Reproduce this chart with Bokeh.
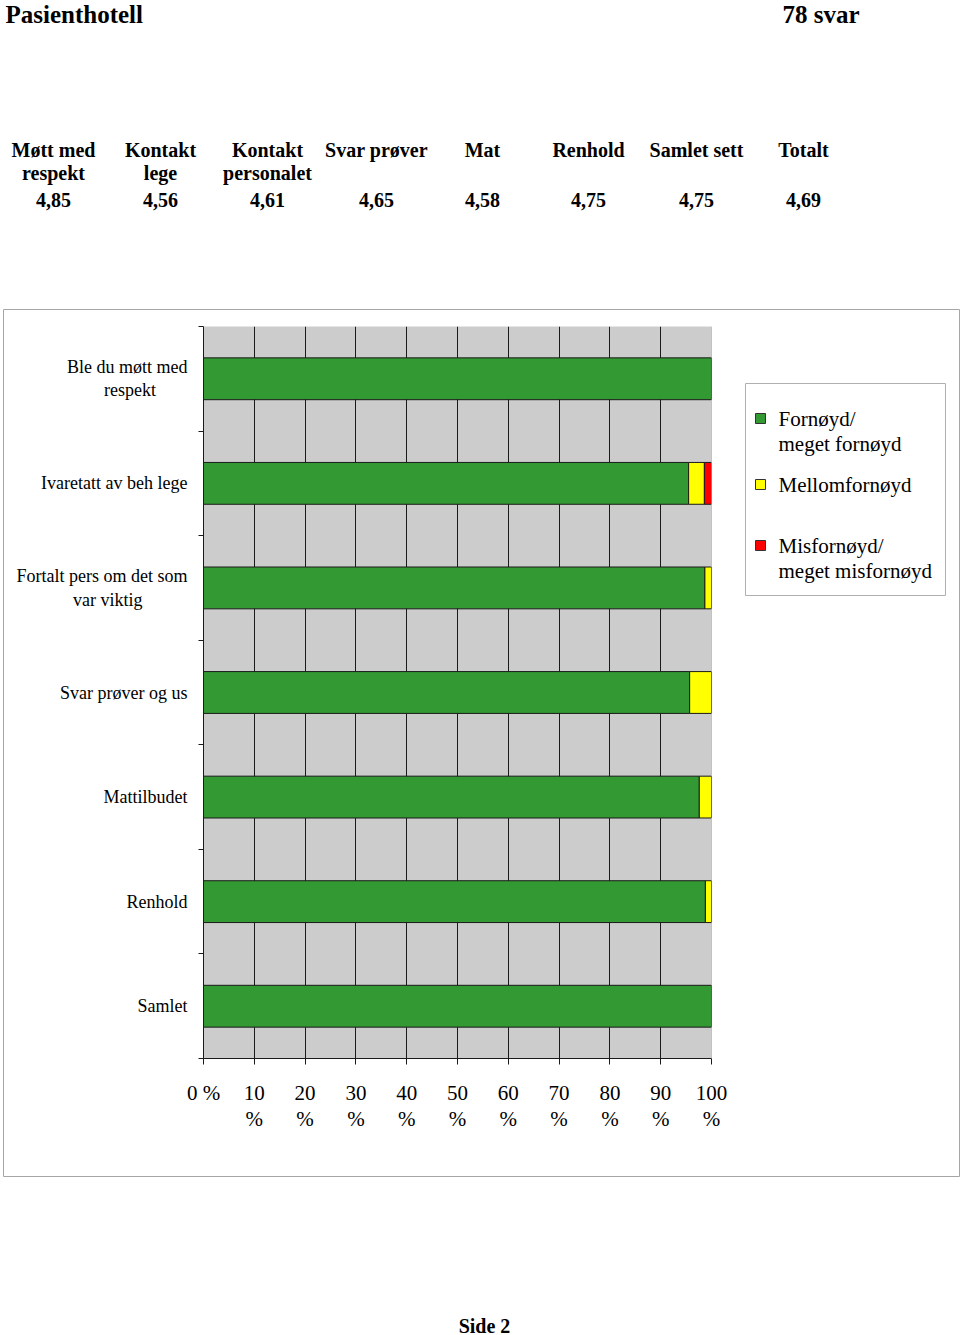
from bokeh.plotting import figure
from bokeh.models import (Range1d, FixedTicker, ColumnDataSource, Span)
from bokeh.core.properties import value
from bokeh.embed import file_html
from bokeh.resources import INLINE

# ---------------- data ----------------
title = "Pasienthotell"
count_text = "78 svar"
summary_headers = ["Møtt med\nrespekt", "Kontakt\nlege", "Kontakt\npersonalet", "Svar prøver",
                   "Mat", "Renhold", "Samlet sett", "Totalt"]
summary_values = ["4,85", "4,56", "4,61", "4,65", "4,58", "4,75", "4,75", "4,69"]

categories = ["Ble du møtt med\nrespekt", "Ivaretatt av beh lege",
              "Fortalt pers om det som\nvar viktig", "Svar prøver og us",
              "Mattilbudet", "Renhold", "Samlet"]
fornoyd = [100.0, 95.5, 98.7, 95.7, 97.6, 98.8, 100.0]
mellomfornoyd = [0.0, 3.1, 1.3, 4.3, 2.4, 1.2, 0.0]
misfornoyd = [0.0, 1.4, 0.0, 0.0, 0.0, 0.0, 0.0]
series_names = ["Fornøyd/\nmeget fornøyd", "Mellomfornøyd", "Misfornøyd/\nmeget misfornøyd"]

x_ticks = [0, 10, 20, 30, 40, 50, 60, 70, 80, 90, 100]
x_tick_labels = ["0 %", "10\n%", "20\n%", "30\n%", "40\n%", "50\n%", "60\n%",
                 "70\n%", "80\n%", "90\n%", "100\n%"]
footer = "Side 2"

# ---------------- style / layout ----------------
FONT = "Liberation Serif"
GREEN, YELLOW, RED = "#339933", "#ffff00", "#ff0000"
colors = [GREEN, YELLOW, RED]
PAGE_W, PAGE_H = 960, 1335
BOX_L, BOX_R, BOX_T, BOX_B = 3, 959, 309, 1176     # outer chart box (page px)
FL, FR, FT, FB = 203, 711, 326, 1058               # plot frame (page px)
LEG_L, LEG_R, LEG_T, LEG_B = 745, 946, 383, 596    # legend box (page px)
n = len(categories)


def text_fig(w, h, **kw):
    f = figure(width=w, height=h, x_range=Range1d(0, w), y_range=Range1d(h, 0),
               output_backend="svg", toolbar_location=None, min_border=0,
               x_axis_location=None, y_axis_location=None, **kw)
    f.grid.visible = False
    f.outline_line_color = None
    f.background_fill_color = "white"
    f.border_fill_color = "white"
    return f


# ---------- header ----------
head = text_fig(PAGE_W, BOX_T)
head.text(x=[5, 782], y=[14, 14], text=[title, count_text], text_font=value(FONT),
          text_font_size="25px", text_font_style="bold", text_align="left",
          text_baseline="middle", text_color="black")
col_centers = [53, 160, 267, 376, 482, 588, 696, 803]
hx, hy, ht = [], [], []
for hdr, val, cx in zip(summary_headers, summary_values, col_centers):
    for k, line in enumerate(hdr.split("\n")):
        hx.append(cx); hy.append(149 + 23 * k); ht.append(line)
    hx.append(cx); hy.append(199); ht.append(val)
head.text(x=hx, y=hy, text=ht, text_font=value(FONT), text_font_size="20px",
          text_font_style="bold", text_align="center", text_baseline="middle", text_color="black")

# ---------- chart ----------
cw, ch = BOX_R - BOX_L, BOX_B - BOX_T
p = figure(width=cw, height=ch, x_range=Range1d(0, 100), y_range=Range1d(0, n),
           output_backend="svg", toolbar_location=None,
           min_border_left=FL - BOX_L, min_border_right=BOX_R - FR,
           min_border_top=FT - BOX_T, min_border_bottom=BOX_B - FB,
           margin=(0, 0, 0, BOX_L))
p.background_fill_color = "#cccccc"
p.border_fill_color = "white"
p.outline_line_color = None

src = ColumnDataSource(dict(y=[n - 0.5 - i for i in range(n)],
                            fornoyd=fornoyd, mellom=mellomfornoyd, misfornoyd=misfornoyd))
rs = p.hbar_stack(["fornoyd", "mellom", "misfornoyd"], y="y", height=0.4, color=colors,
                  line_color="#1a1a1a", line_width=1, source=src)

p.xgrid.ticker = FixedTicker(ticks=x_ticks[1:-1])
p.xgrid.grid_line_color = "#1a1a1a"
p.xgrid.grid_line_width = 1
p.ygrid.grid_line_color = None
p.add_layout(Span(location=100, dimension="height", line_color="#a0a0a0", line_width=1))

xa = p.xaxis[0]
xa.ticker = FixedTicker(ticks=x_ticks)
xa.major_label_overrides = {t: l for t, l in zip(x_ticks, x_tick_labels)}
xa.major_tick_out = 6
xa.major_tick_in = 0
xa.minor_tick_line_color = None
xa.axis_line_color = "#1a1a1a"
xa.major_tick_line_color = "#1a1a1a"
xa.major_label_text_font = FONT
xa.major_label_text_font_size = "21px"
xa.major_label_text_color = "black"
xa.major_label_text_line_height = 1.1
xa.major_label_standoff = 16

# wrapped category labels are centred line by line in the reference: pad the
# shorter last line with no-break spaces (layout only)
NBSP = "\u00a0"
pad_lines = {0: 7, 2: 10}
cat_labels = []
for i, cat in enumerate(categories):
    lines = cat.split("\n")
    if i in pad_lines and len(lines) > 1:
        lines[-1] = lines[-1] + NBSP * pad_lines[i]
    cat_labels.append("\n".join(lines))

ya = p.yaxis[0]
centers = [n - 0.5 - i for i in range(n)]
ya.ticker = FixedTicker(ticks=centers, minor_ticks=list(range(n + 1)))
ya.major_label_overrides = {c: cat for c, cat in zip(centers, cat_labels)}
ya.major_tick_out = 0
ya.major_tick_in = 0
ya.major_tick_line_color = None
ya.minor_tick_out = 5
ya.minor_tick_in = 0
ya.minor_tick_line_color = "#1a1a1a"
ya.axis_line_color = "#1a1a1a"
ya.major_label_standoff = 11
ya.major_label_text_font = FONT
ya.major_label_text_font_size = "18px"
ya.major_label_text_color = "black"
ya.major_label_text_line_height = 1.17

# ---------- outer box (transparent canvas laid over the chart) ----------
box = figure(width=cw + 2, height=ch + 2, x_range=Range1d(0, 1), y_range=Range1d(0, 1),
             output_backend="svg", toolbar_location=None, min_border=1,
             x_axis_location=None, y_axis_location=None,
             styles={"position": "absolute", "left": f"{BOX_L - 1}px", "top": f"{BOX_T - 1}px",
                     "pointer-events": "none"})
box.grid.visible = False
box.background_fill_alpha = 0
box.border_fill_alpha = 0
box.outline_line_color = "#a6a6a6"
box.outline_line_width = 1

# ---------- legend (own small canvas, placed over the chart's right margin) ----------
lw, lh = LEG_R - LEG_L, LEG_B - LEG_T
leg = text_fig(lw, lh, styles={"position": "absolute", "left": f"{LEG_L}px", "top": f"{LEG_T}px"})
leg.outline_line_color = "#b0b0b0"
leg.outline_line_width = 1
item_first_line = [35, 101, 162]   # centre of first text line, px inside legend
mx, my, mc = [], [], []
tx, ty, tt = [], [], []
for name, col, y0 in zip(series_names, colors, item_first_line):
    mx.append(15); my.append(y0); mc.append(col)
    for k, line in enumerate(name.split("\n")):
        tx.append(33); ty.append(y0 + 25 * k); tt.append(line)
leg.rect(x=mx, y=my, width=10, height=10, fill_color=mc, line_color="#333333", line_width=1)
leg.text(x=tx, y=ty, text=tt, text_font=value(FONT), text_font_size="21px",
         text_align="left", text_baseline="middle", text_color="black")

# ---------- footer ----------
foot = text_fig(PAGE_W, PAGE_H - BOX_B)
foot.text(x=[484], y=[149], text=[footer], text_font=value(FONT), text_font_size="20px",
          text_font_style="bold", text_align="center", text_baseline="middle", text_color="black")

open("out.html", "w").write(file_html([head, p, foot, leg, box], INLINE))
